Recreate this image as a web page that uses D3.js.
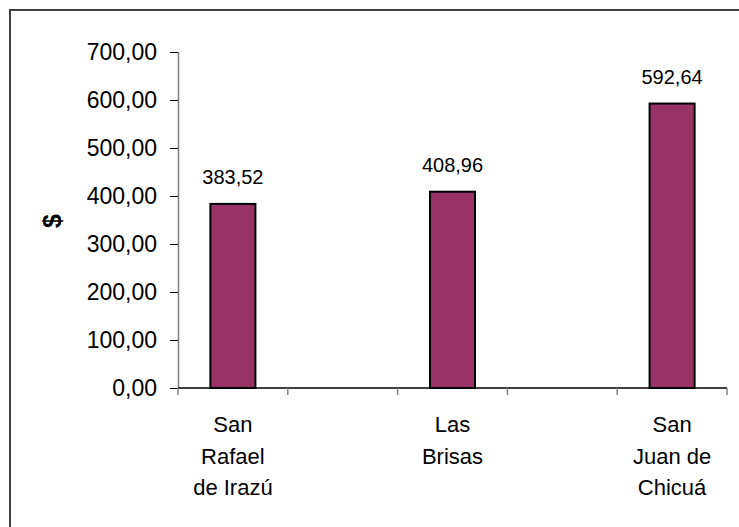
<!DOCTYPE html>
<html>
<head>
<meta charset="utf-8">
<script src="https://cdn.jsdelivr.net/npm/d3@7"></script>
<style>
  body { margin: 0; background: #fff; }
  text { font-family: "Liberation Sans", Arial, sans-serif; fill: #000; }
</style>
</head>
<body>
<div id="chart"></div>
<script>
const width = 739,
    height = 527

// categories (empty slots sit between the villages, as in the original sheet)
var categories = ["San Rafael de Irazú", "", "Las Brisas", "", "San Juan de Chicuá"]
var labelLines = [["San", "Rafael", "de Irazú"], [], ["Las", "Brisas"], [], ["San", "Juan de", "Chicuá"]]
var values = [383.52, null, 408.96, null, 592.64]
var yTicks = [0, 100, 200, 300, 400, 500, 600, 700]

var margin = {left: 178, right: 12, top: 52, bottom: 139}

var svg = d3.select("#chart")
    .append("svg")
    .attr("width", width)
    .attr("height", height)

// outer frame
svg.append("rect")
    .attr("x", 10)
    .attr("y", 10)
    .attr("width", width)
    .attr("height", height)
    .attr("fill", "none")
    .attr("stroke", "#404040")
    .attr("stroke-width", 2)

var x = d3.scaleBand()
    .domain(d3.range(categories.length))
    .range([margin.left, width - margin.right])
    .padding(0)

var y = d3.scaleLinear()
    .domain([0, 700])
    .range([height - margin.bottom, margin.top])

var fmt = d => d.toFixed(2).replace(".", ",")

// y axis
var yAxis = svg.append("g")
    .attr("transform", `translate(${margin.left},0)`)
    .call(d3.axisLeft(y).tickValues(yTicks).tickFormat(fmt).tickSize(8).tickPadding(13))
yAxis.select(".domain").attr("stroke", "#808080").attr("stroke-width", 1.5)
    .attr("d", `M0.5,${y(700)}V${y(0)}`)
yAxis.selectAll(".tick line").attr("stroke", "#000")
yAxis.selectAll(".tick text")
    .attr("font-size", 23)
    .attr("font-family", "Liberation Sans, Arial, sans-serif")

// x axis line + ticks at band boundaries
var base = y(0)
svg.append("line")
    .attr("x1", x.range()[0])
    .attr("x2", x.range()[1])
    .attr("y1", base)
    .attr("y2", base)
    .attr("stroke", "#000")
    .attr("stroke-width", 1.5)

var bounds = d3.range(categories.length + 1).map(i => margin.left + i * x.step())
svg.append("g")
    .selectAll("line")
    .data(bounds)
    .enter()
    .append("line")
    .attr("x1", d => d)
    .attr("x2", d => d)
    .attr("y1", base)
    .attr("y2", base + 7)
    .attr("stroke", "#808080")
    .attr("stroke-width", 1.5)

// category labels
svg.append("g")
    .selectAll("text")
    .data(labelLines)
    .enter()
    .append("text")
    .attr("text-anchor", "middle")
    .attr("font-size", 22)
    .each(function (lines, i) {
        d3.select(this).selectAll("tspan")
            .data(lines)
            .enter()
            .append("tspan")
            .attr("x", x(i) + x.bandwidth() / 2)
            .attr("y", (d, j) => 432 + j * 31.5)
            .text(d => d)
    })

// bars
var barW = x.bandwidth() * 0.41
var barData = values.map((v, i) => ({i: i, v: v})).filter(d => d.v != null)

svg.append("g")
    .selectAll("rect")
    .data(barData)
    .enter()
    .append("rect")
    .attr("x", d => x(d.i) + (x.bandwidth() - barW) / 2)
    .attr("y", d => y(d.v))
    .attr("width", barW)
    .attr("height", d => base - y(d.v))
    .attr("fill", "#993366")
    .attr("stroke", "#000")
    .attr("stroke-width", 2)

// value labels
svg.append("g")
    .selectAll("text")
    .data(barData)
    .enter()
    .append("text")
    .attr("x", d => x(d.i) + x.bandwidth() / 2)
    .attr("y", d => y(d.v) - 20)
    .attr("text-anchor", "middle")
    .attr("font-size", 20)
    .text(d => fmt(d.v))

// y title
svg.append("text")
    .attr("transform", "translate(61,221) rotate(-90)")
    .attr("text-anchor", "middle")
    .attr("font-size", 25)
    .attr("font-weight", "bold")
    .text("$")
</script>
</body>
</html>
